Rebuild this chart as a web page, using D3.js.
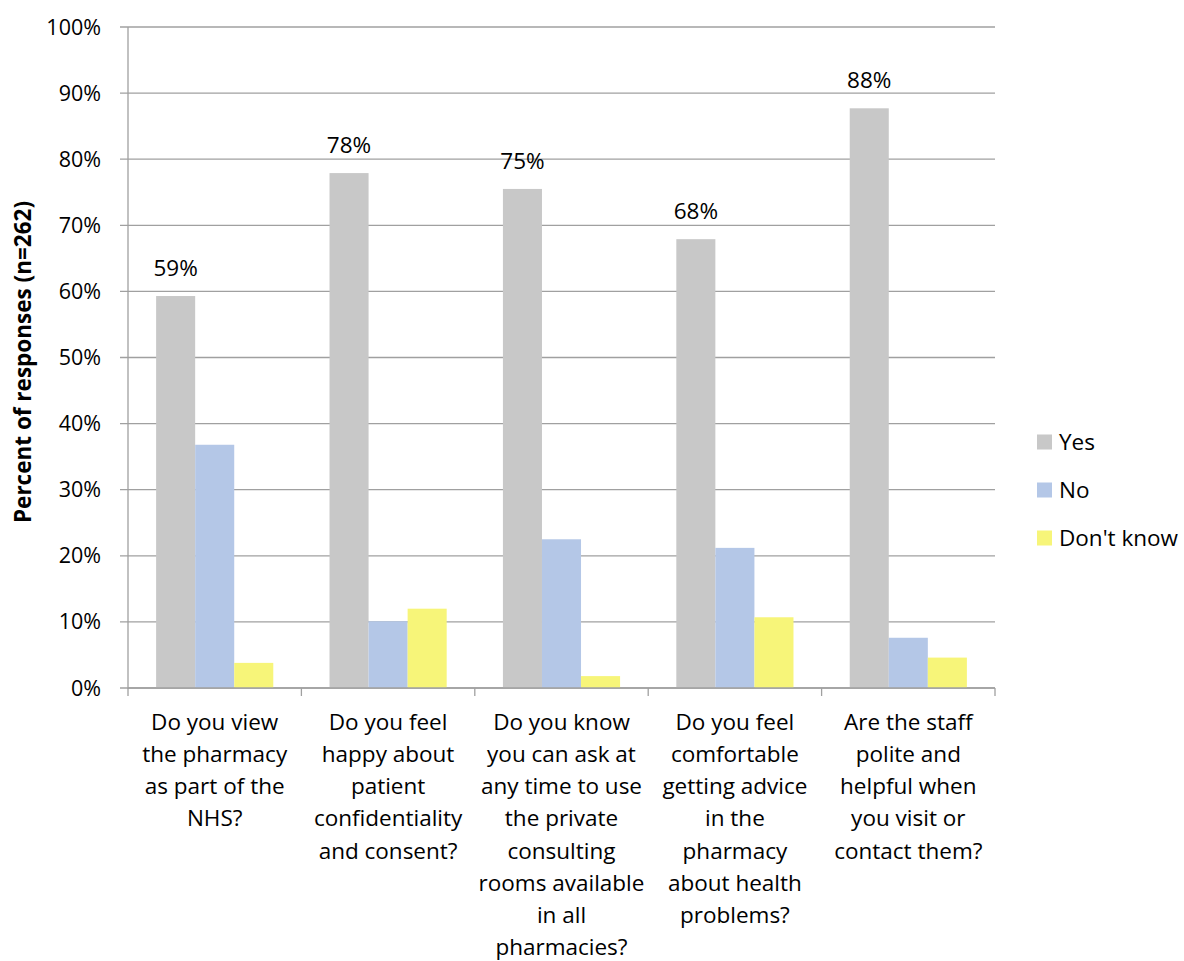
<!DOCTYPE html>
<html><head><meta charset="utf-8">
<script src="https://d3js.org/d3.v7.min.js"></script>
<style>body{margin:0;background:#fff;} text{font-family:"Open Sans",sans-serif;fill:#000;}</style>
</head><body><svg id="c" width="1184" height="961"></svg>
<script>
const categories = [
  ["Do you view","the pharmacy","as part of the","NHS?"],
  ["Do you feel","happy about","patient","confidentiality","and consent?"],
  ["Do you know","you can ask at","any time to use","the private","consulting","rooms available","in all","pharmacies?"],
  ["Do you feel","comfortable","getting advice","in the","pharmacy","about health","problems?"],
  ["Are the staff","polite and","helpful when","you visit or","contact them?"]
];
const seriesNames = ["Yes","No","Don't know"];
const yesValues = [59.3, 77.9, 75.5, 67.9, 87.7];
const noValues = [36.8, 10.1, 22.5, 21.2, 7.6];
const dkValues = [3.8, 12.0, 1.8, 10.7, 4.6];
const yesLabels = ["59%","78%","75%","68%","88%"];
const yTicks = [0,10,20,30,40,50,60,70,80,90,100];
const colors = ["#c8c8c8","#b4c7e7","#f7f579"];

const svg = d3.select("#c");
const L=128, R=995, T=27, B=688;
const x0 = d3.scaleBand().domain(d3.range(categories.length)).range([L,R]).paddingInner(0).paddingOuter(0);
const x1 = d3.scaleBand().domain(seriesNames).range([0,x0.bandwidth()]).paddingInner(0).paddingOuter(0.72);
const y = d3.scaleLinear().domain([0,100]).range([B,T]);

// gridlines
svg.append("g").selectAll("line").data(yTicks).join("line")
  .attr("x1",L-8).attr("x2",R).attr("y1",d=>y(d)).attr("y2",d=>y(d))
  .attr("stroke","#a0a0a0").attr("stroke-width",1.3);
// y tick labels
svg.append("g").selectAll("text").data(yTicks).join("text")
  .attr("x",101).attr("y",d=>y(d)).attr("dy","0.35em").attr("text-anchor","end")
  .style("font-size","21.5px").text(d=>d+"%");
// y axis line
svg.append("line").attr("x1",L).attr("x2",L).attr("y1",T).attr("y2",B+1).attr("stroke","#a0a0a0").attr("stroke-width",1.3);

const series = [yesValues,noValues,dkValues];
series.forEach((vals,si)=>{
  svg.append("g").selectAll("rect").data(vals).join("rect")
    .attr("x",(d,i)=>x0(i)+x1(seriesNames[si]))
    .attr("width",x1.bandwidth())
    .attr("y",d=>y(d)).attr("height",d=>B-y(d))
    .attr("fill",colors[si]);
});
// x axis line & ticks
svg.append("line").attr("x1",L).attr("x2",R).attr("y1",B).attr("y2",B).attr("stroke","#a0a0a0").attr("stroke-width",1.3);
svg.append("g").selectAll("line").data(d3.range(categories.length+1)).join("line")
  .attr("x1",i=>L+i*x0.bandwidth()).attr("x2",i=>L+i*x0.bandwidth())
  .attr("y1",B).attr("y2",B+8).attr("stroke","#a0a0a0").attr("stroke-width",1.3);

// data labels
svg.append("g").selectAll("text").data(yesValues).join("text")
  .attr("x",(d,i)=>x0(i)+x1("Yes")+x1.bandwidth()/2)
  .attr("y",d=>y(d)-28).attr("dy","0.35em").attr("text-anchor","middle")
  .style("font-size","22.5px").text((d,i)=>yesLabels[i]);

// category labels
categories.forEach((lines,i)=>{
  const t = svg.append("text").attr("text-anchor","middle").style("font-size","22.5px");
  lines.forEach((ln,j)=>{
    t.append("tspan").attr("x",x0(i)+x0.bandwidth()/2).attr("y",722+j*32.2).attr("dy","0.35em").text(ln);
  });
});

// y axis title
svg.append("text").attr("transform","translate(23,362) rotate(-90)")
  .attr("text-anchor","middle").attr("dy","0.35em")
  .style("font-size","22.5px").style("font-weight","bold").text("Percent of responses (n=262)");

// legend
const lg = svg.append("g").selectAll("g").data(seriesNames).join("g")
  .attr("transform",(d,i)=>`translate(1037,${442+i*48})`);
lg.append("rect").attr("x",0).attr("y",-7.5).attr("width",15).attr("height",15).attr("fill",(d,i)=>colors[i]);
lg.append("text").attr("x",22).attr("dy","0.35em").style("font-size","22.5px").text(d=>d);
</script></body></html>
